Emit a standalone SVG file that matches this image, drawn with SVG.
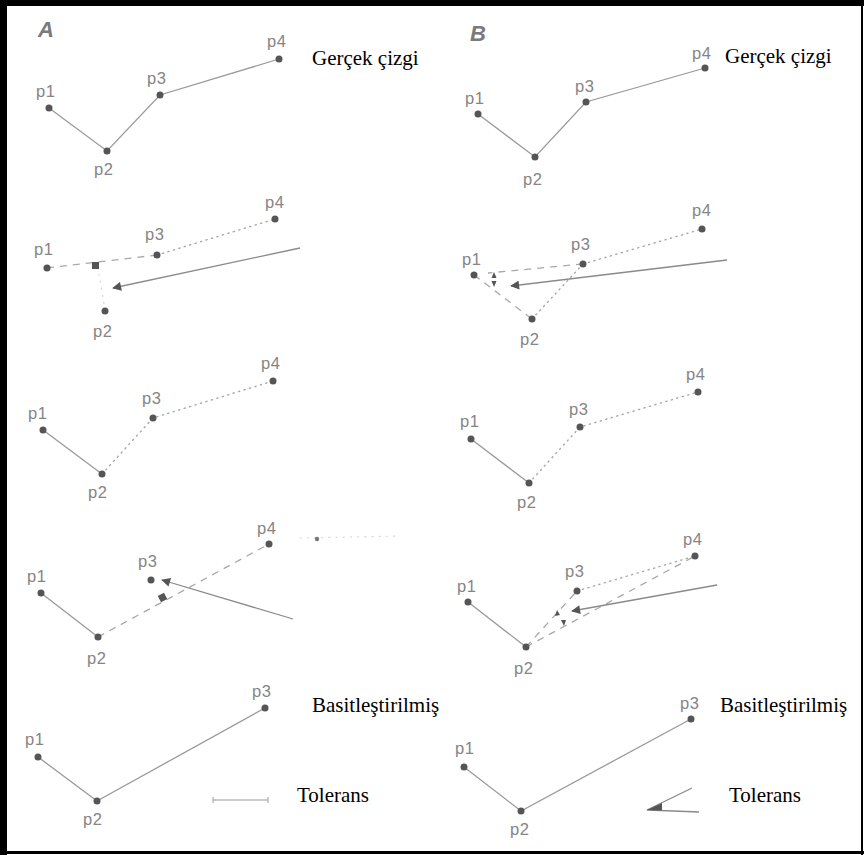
<svg xmlns="http://www.w3.org/2000/svg" width="864" height="855" viewBox="0 0 864 855">
  <defs>
    <style>
      .lbl { font-family: "Liberation Sans", Arial, sans-serif; font-size: 16.5px; fill: #858585; letter-spacing: 0.6px; }
      .cap { font-family: "Liberation Sans", Arial, sans-serif; font-size: 22px; font-weight: bold; font-style: italic; fill: #7a7a7a; }
      .note { font-family: "Liberation Serif", "Times New Roman", serif; font-size: 21px; fill: #000; }
      .pt { fill: #555; }
      .solid { stroke: #9a9a9a; stroke-width: 1.3; fill: none; }
      .dash { stroke: #a8a8a8; stroke-width: 1.3; fill: none; stroke-dasharray: 7 6; }
      .dot { stroke: #a8a8a8; stroke-width: 1.4; fill: none; stroke-dasharray: 1.2 4.5; stroke-linecap: round; }
      .faint { stroke: #d8d8d8; stroke-width: 1.2; fill: none; stroke-dasharray: 1.2 6; stroke-linecap: round; }
      .arrow { stroke: #8a8a8a; stroke-width: 1.3; fill: none; marker-end: url(#head); }
      .mark { fill: #555; }
    </style>
    <marker id="head" viewBox="0 0 10 10" refX="9" refY="5" markerWidth="10" markerHeight="9" markerUnits="userSpaceOnUse" orient="auto">
      <path d="M0,0 L10,5 L0,10 Z" fill="#555"/>
    </marker>
  </defs>

  <rect width="864" height="855" fill="#fff"/>

  <!-- frame -->
  <rect x="0" y="0" width="864" height="6" fill="#000"/>
  <rect x="0" y="0" width="7" height="855" fill="#000"/>
  <rect x="861" y="0" width="2" height="855" fill="#000"/>
  <rect x="0" y="851" width="864" height="3" fill="#000"/>

  <text class="cap" x="38" y="37">A</text>
  <text class="cap" x="470" y="41">B</text>

  <!-- connectors -->
  <g id="connectors">
    <!-- row 1 -->
    <polyline class="solid" points="49,108 107,151 160,95 279,59"/>
    <polyline class="solid" points="478,114 535,157 586,102 705,68"/>

    <!-- row 2 A -->
    <line class="dash" x1="47" y1="268" x2="157" y2="255"/>
    <line class="dot" x1="157" y1="255" x2="275" y2="219"/>
    <line class="faint" x1="99" y1="274" x2="104" y2="304"/>
    <line class="arrow" x1="300" y1="248" x2="113" y2="288"/>
    <!-- row 2 B -->
    <line class="dash" x1="583" y1="264" x2="488" y2="273"/>
    <line class="dash" x1="474" y1="275" x2="532" y2="319"/>
    <line class="dot" x1="532" y1="319" x2="583" y2="264"/>
    <line class="dot" x1="583" y1="264" x2="702" y2="229"/>
    <line class="arrow" x1="727" y1="260" x2="511" y2="286"/>

    <!-- row 3 -->
    <line class="solid" x1="43" y1="430" x2="102" y2="474"/>
    <polyline class="dot" points="102,474 153,418 273,381"/>
    <line class="solid" x1="471" y1="439" x2="529" y2="483"/>
    <polyline class="dot" points="529,483 580,427 698,392"/>

    <!-- row 4 A -->
    <line class="solid" x1="41" y1="593" x2="98" y2="637"/>
    <line class="dash" x1="98" y1="637" x2="269" y2="544"/>
    <line class="arrow" x1="293" y1="619" x2="162" y2="580"/>
    <line class="faint" x1="300" y1="538" x2="400" y2="536"/>
    <!-- row 4 B -->
    <line class="solid" x1="468" y1="602" x2="526" y2="647"/>
    <line class="dash" x1="526" y1="647" x2="577" y2="591"/>
    <line class="dash" x1="526" y1="647" x2="695" y2="556"/>
    <line class="dot" x1="577" y1="591" x2="695" y2="556"/>
    <line class="arrow" x1="717" y1="585" x2="572" y2="611"/>

    <!-- row 5 -->
    <polyline class="solid" points="38,757 97,801 265,708"/>
    <polyline class="solid" points="464,767 521,811 691,719"/>
  </g>

  <!-- markers on the test lines -->
  <rect class="mark" x="92" y="262" width="7" height="7"/>
  <rect class="mark" x="159" y="594" width="7" height="7" transform="rotate(-28 162.5 597.5)"/>
  <path class="mark" d="M494,272 L491.5,278 L496.5,278 Z"/>
  <path class="mark" d="M494,287 L491.5,281 L496.5,281 Z"/>
  <path class="mark" d="M557,610 L555,616 L560,615 Z"/>
  <path class="mark" d="M564,626 L561,620 L566,620 Z"/>
  <circle cx="317" cy="539" r="2.2" fill="#777"/>

  <!-- tolerance symbols -->
  <g id="tol-a">
    <line x1="213" y1="800" x2="268" y2="800" stroke="#9a9a9a" stroke-width="1.2"/>
    <line x1="213" y1="797" x2="213" y2="803" stroke="#9a9a9a" stroke-width="1"/>
    <line x1="268" y1="797" x2="268" y2="803" stroke="#9a9a9a" stroke-width="1"/>
  </g>
  <g id="tol-b">
    <polyline points="692,788 647,810 699,812" stroke="#8a8a8a" stroke-width="1.3" fill="none"/>
    <path d="M647,810 L662,803 L662,810.6 Z" fill="#555"/>
  </g>

  <!-- points and labels: panel A -->
  <g id="a-row1">
    <circle class="pt" cx="49" cy="108" r="3.5"/><text class="lbl" x="36" y="97">p1</text>
    <circle class="pt" cx="107" cy="151" r="3.5"/><text class="lbl" x="94" y="175">p2</text>
    <circle class="pt" cx="160" cy="95" r="3.5"/><text class="lbl" x="147" y="84">p3</text>
    <circle class="pt" cx="279" cy="59" r="3.5"/><text class="lbl" x="267" y="47">p4</text>
    <text class="note" x="312" y="65">Gerçek çizgi</text>
  </g>
  <g id="a-row2">
    <circle class="pt" cx="47" cy="268" r="3.5"/><text class="lbl" x="34" y="255">p1</text>
    <circle class="pt" cx="105" cy="311" r="3.5"/><text class="lbl" x="93" y="337">p2</text>
    <circle class="pt" cx="157" cy="255" r="3.5"/><text class="lbl" x="145" y="240">p3</text>
    <circle class="pt" cx="275" cy="219" r="3.5"/><text class="lbl" x="265" y="208">p4</text>
  </g>
  <g id="a-row3">
    <circle class="pt" cx="43" cy="430" r="3.5"/><text class="lbl" x="28" y="419">p1</text>
    <circle class="pt" cx="102" cy="474" r="3.5"/><text class="lbl" x="88" y="498">p2</text>
    <circle class="pt" cx="153" cy="418" r="3.5"/><text class="lbl" x="142" y="404">p3</text>
    <circle class="pt" cx="273" cy="381" r="3.5"/><text class="lbl" x="261" y="369">p4</text>
  </g>
  <g id="a-row4">
    <circle class="pt" cx="41" cy="593" r="3.5"/><text class="lbl" x="27" y="582">p1</text>
    <circle class="pt" cx="98" cy="637" r="3.5"/><text class="lbl" x="87" y="664">p2</text>
    <circle class="pt" cx="151" cy="580" r="3.5"/><text class="lbl" x="138" y="567">p3</text>
    <circle class="pt" cx="269" cy="544" r="3.5"/><text class="lbl" x="257" y="534">p4</text>
  </g>
  <g id="a-row5">
    <circle class="pt" cx="38" cy="757" r="3.5"/><text class="lbl" x="25" y="745">p1</text>
    <circle class="pt" cx="97" cy="801" r="3.5"/><text class="lbl" x="83" y="825">p2</text>
    <circle class="pt" cx="265" cy="708" r="3.5"/><text class="lbl" x="252" y="697">p3</text>
    <text class="note" x="312" y="712">Basitleştirilmiş</text>
    <text class="note" x="297" y="802">Tolerans</text>
  </g>

  <!-- points and labels: panel B -->
  <g id="b-row1">
    <circle class="pt" cx="478" cy="114" r="3.5"/><text class="lbl" x="465" y="104">p1</text>
    <circle class="pt" cx="535" cy="157" r="3.5"/><text class="lbl" x="523" y="185">p2</text>
    <circle class="pt" cx="586" cy="102" r="3.5"/><text class="lbl" x="575" y="92">p3</text>
    <circle class="pt" cx="705" cy="68" r="3.5"/><text class="lbl" x="692" y="59">p4</text>
    <text class="note" x="725" y="63">Gerçek çizgi</text>
  </g>
  <g id="b-row2">
    <circle class="pt" cx="474" cy="275" r="3.5"/><text class="lbl" x="462" y="265">p1</text>
    <circle class="pt" cx="532" cy="319" r="3.5"/><text class="lbl" x="520" y="345">p2</text>
    <circle class="pt" cx="583" cy="264" r="3.5"/><text class="lbl" x="571" y="250">p3</text>
    <circle class="pt" cx="702" cy="229" r="3.5"/><text class="lbl" x="692" y="216">p4</text>
  </g>
  <g id="b-row3">
    <circle class="pt" cx="471" cy="439" r="3.5"/><text class="lbl" x="460" y="427">p1</text>
    <circle class="pt" cx="529" cy="483" r="3.5"/><text class="lbl" x="517" y="508">p2</text>
    <circle class="pt" cx="580" cy="427" r="3.5"/><text class="lbl" x="569" y="415">p3</text>
    <circle class="pt" cx="698" cy="392" r="3.5"/><text class="lbl" x="686" y="380">p4</text>
  </g>
  <g id="b-row4">
    <circle class="pt" cx="468" cy="602" r="3.5"/><text class="lbl" x="457" y="592">p1</text>
    <circle class="pt" cx="526" cy="647" r="3.5"/><text class="lbl" x="514" y="674">p2</text>
    <circle class="pt" cx="577" cy="591" r="3.5"/><text class="lbl" x="565" y="577">p3</text>
    <circle class="pt" cx="695" cy="556" r="3.5"/><text class="lbl" x="683" y="545">p4</text>
  </g>
  <g id="b-row5">
    <circle class="pt" cx="464" cy="767" r="3.5"/><text class="lbl" x="455" y="754">p1</text>
    <circle class="pt" cx="521" cy="811" r="3.5"/><text class="lbl" x="510" y="835">p2</text>
    <circle class="pt" cx="691" cy="719" r="3.5"/><text class="lbl" x="680" y="709">p3</text>
    <text class="note" x="720" y="712">Basitleştirilmiş</text>
    <text class="note" x="729" y="802">Tolerans</text>
  </g>
</svg>
